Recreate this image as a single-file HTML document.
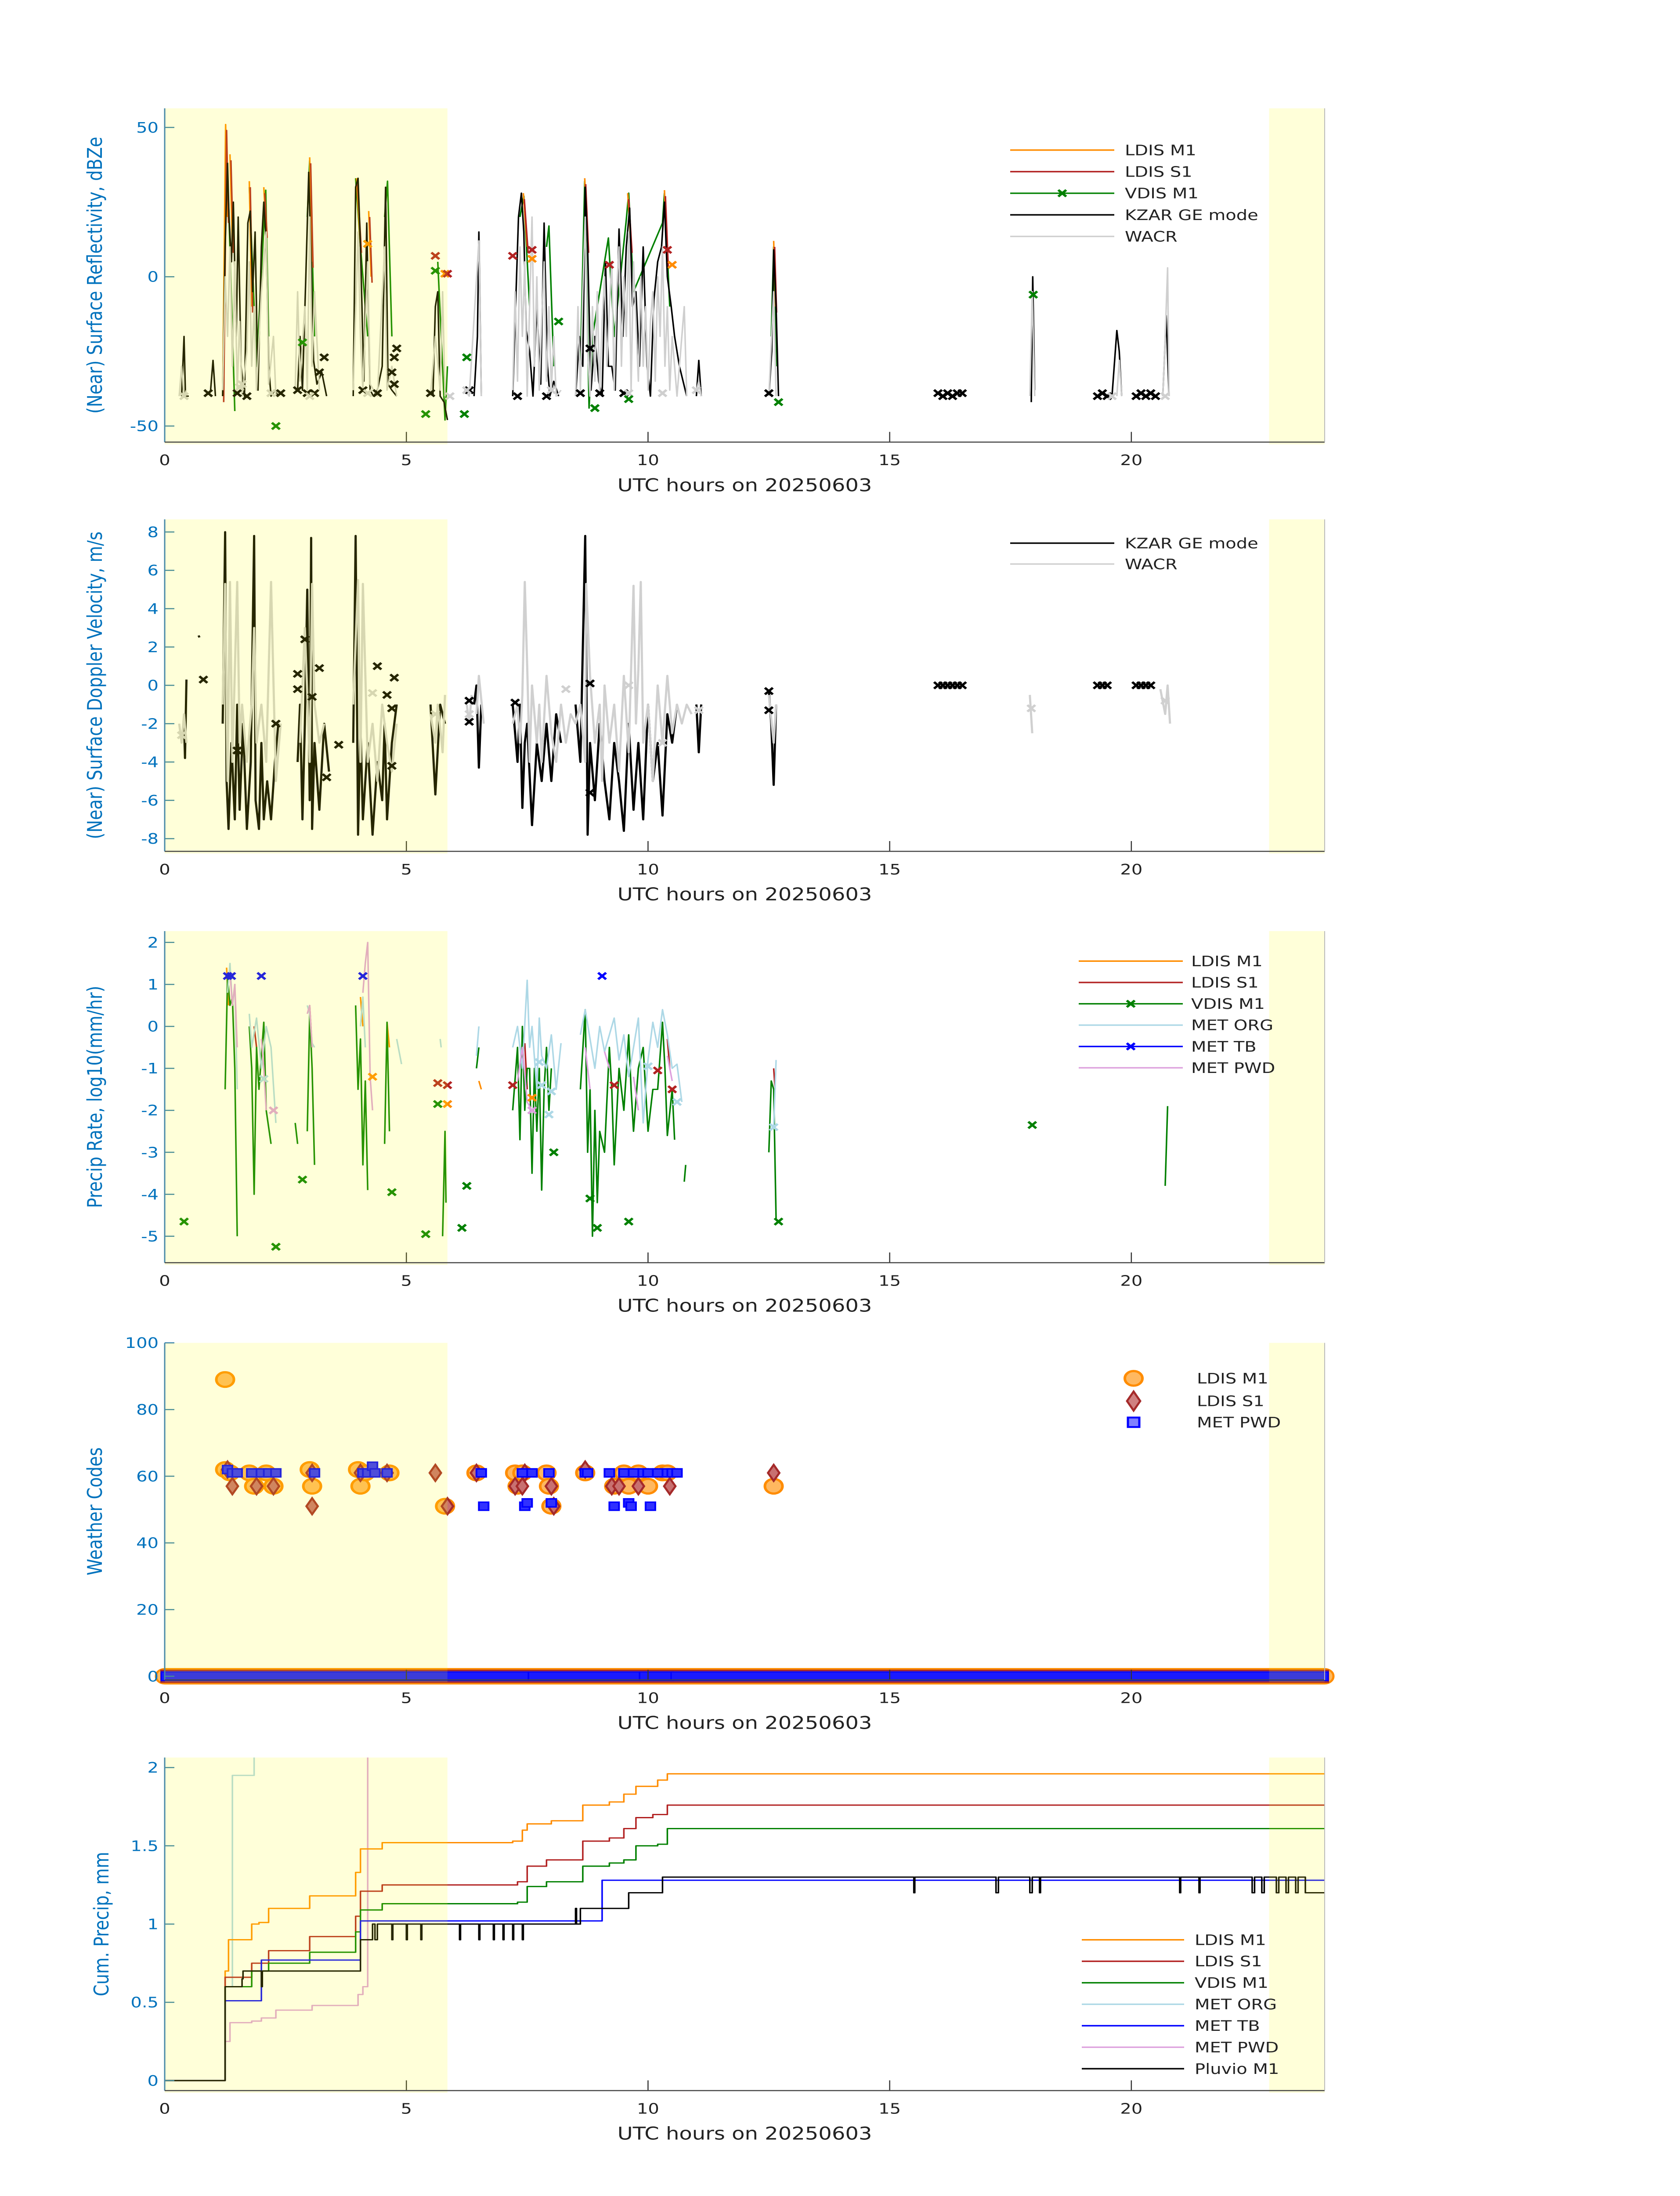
<!DOCTYPE html>
<html><head><meta charset="utf-8"><title>Surface precipitation quicklooks 20250603</title>
<style>
html,body{margin:0;padding:0;background:#fff;width:100%;height:100%;overflow:hidden;}
svg{display:block;position:absolute;left:0;top:0;width:100vw;height:100vh;font-family:"DejaVu Sans","Liberation Sans",sans-serif;}
</style></head>
<body>
<svg id="fig" width="100%" height="100%" viewBox="0 0 3825 6000" preserveAspectRatio="none" xmlns="http://www.w3.org/2000/svg"></svg>
<script>
// ---------- shared axis data ----------
const xTicks = [0,5,10,15,20];
const shadeRanges = [[0,5.85],[22.85,24]];
// ---------- panel 1: reflectivity ----------
const reflTicks = [50,0,-50];
const kzarRefl = [[0.35,-40],[0.4,-20],[0.43,-40],[0.5,-40],null,[0.95,-38],[1.0,-28],[1.05,-40],null,
 [1.2,-40],[1.25,10],[1.3,38],[1.33,20],[1.38,5],[1.42,25],[1.48,-20],[1.52,20],[1.58,-30],[1.65,-40],[1.72,18],[1.77,22],[1.82,-5],[1.87,15],[1.93,-38],[2.0,10],[2.05,25],[2.1,12],[2.15,-30],[2.2,-40],[2.28,-38],[2.35,-40],null,
 [2.75,-38],[2.8,-20],[2.85,-38],[2.92,0],[2.98,35],[3.03,5],[3.08,-28],[3.15,-36],[3.25,-32],[3.35,-40],null,
 [3.9,-40],[3.95,30],[4.0,33],[4.05,10],[4.12,-35],[4.18,18],[4.25,-38],[4.32,-40],[4.4,-38],[4.5,-30],[4.57,30],[4.62,-36],[4.7,-38],[4.8,-40],null,
 [5.55,-40],[5.6,-10],[5.65,-5],[5.7,-40],[5.78,-42],[5.85,-48],null,[6.4,-40],[6.47,-20],[6.5,15],[6.55,-40],null,
 [7.2,-40],[7.25,-15],[7.32,20],[7.38,28],[7.43,15],[7.48,-18],[7.55,-25],[7.62,-40],[7.7,-10],[7.78,-36],[7.85,18],[7.92,-30],[7.97,-40],[8.05,-35],[8.15,-40],null,
 [8.5,-40],[8.58,-20],[8.65,-30],[8.7,30],[8.75,10],[8.82,-38],[8.9,-20],[8.98,-35],[9.05,-40],[9.12,5],[9.18,-30],[9.25,-30],[9.32,-38],[9.4,16],[9.48,-20],[9.55,10],[9.62,23],[9.68,-10],[9.75,-5],[9.82,-30],[9.9,10],[9.98,-30],[10.05,-40],[10.12,-8],[10.2,5],[10.28,10],[10.34,25],[10.4,0],[10.48,-10],[10.55,-20],[10.65,-30],[10.8,-40],null,
 [11.0,-40],[11.05,-28],[11.1,-40],null,[12.5,-40],[12.56,-25],[12.6,9],[12.65,-10],[12.7,-40],null,[17.93,-42],[17.96,0],[18.0,-38],null,[19.6,-40],[19.7,-18],[19.75,-25],[19.8,-40],null,[20.65,-40],[20.72,-13],[20.78,-40]];
const wacrRefl = [[0.3,-40],[0.35,-30],[0.4,-40],[0.45,-38],null,[1.2,-38],[1.25,0],[1.3,-20],[1.35,10],[1.4,-30],[1.45,5],[1.5,-38],[1.55,-15],[1.6,-40],[1.7,-25],[1.75,5],[1.8,-30],[1.85,-10],[1.9,-38],[2.0,-5],[2.1,15],[2.15,-36],[2.25,-20],[2.3,-40],null,
 [2.7,-38],[2.75,-5],[2.8,-35],[2.9,-10],[2.95,-38],[3.0,20],[3.05,-30],[3.1,-5],[3.2,-38],null,[3.9,-38],[4.0,15],[4.05,-20],[4.1,-38],[4.2,5],[4.25,-36],[4.4,-40],[4.55,10],[4.6,-38],[4.7,-30],[4.8,-40],null,
 [5.5,-40],[5.6,-20],[5.7,-38],[5.75,-5],[5.8,-40],null,[6.2,-38],[6.3,-40],[6.5,12],[6.55,-40],null,
 [7.2,-38],[7.25,-5],[7.3,-35],[7.35,10],[7.4,-20],[7.45,5],[7.5,-40],[7.55,-10],[7.6,20],[7.65,-30],[7.7,0],[7.75,-38],[7.8,-15],[7.85,5],[7.9,-35],[7.95,-10],[8.0,-38],[8.05,-20],[8.1,-40],[8.2,-38],null,
 [8.5,-40],[8.55,-10],[8.6,-38],[8.65,-5],[8.7,20],[8.75,-25],[8.8,-40],[8.85,-10],[8.9,-35],[8.95,-5],[9.0,-40],[9.05,-15],[9.1,0],[9.15,-30],[9.2,-10],[9.25,5],[9.3,-38],[9.35,-5],[9.4,10],[9.45,-30],[9.5,0],[9.55,-20],[9.6,15],[9.65,-38],[9.7,5],[9.75,-15],[9.8,-35],[9.85,0],[9.9,-30],[9.95,-10],[10.0,-38],[10.05,-15],[10.1,-5],[10.15,-35],[10.2,0],[10.25,-20],[10.3,10],[10.35,-30],[10.4,-10],[10.45,-38],[10.5,-20],[10.6,-40],[10.75,-10],[10.8,-40],null,
 [11.0,-38],[11.05,-35],[11.1,-40],null,[12.5,-40],[12.6,-5],[12.65,-40],null,[17.9,-40],[17.95,-5],[18.0,-40],null,[19.7,-40],[19.75,-28],[19.8,-40],null,[20.65,-40],[20.7,-20],[20.75,3],[20.78,-40]];
const vdisRefl = [[1.2,-40],[1.27,49],[1.33,20],[1.45,-45],null,[1.75,30],[1.9,-30],[2.09,29],[2.15,-20],null,[2.95,20],[3.0,39],[3.1,-20],null,[3.95,33],[4.05,10],[4.2,-20],null,[4.55,20],[4.61,32],[4.7,-20],null,[5.65,5],[5.8,-48],[5.85,-30],null,
 [7.35,20],[7.43,27],[7.55,-10],null,[7.9,10],[7.95,17],[8.05,-30],null,[8.6,-30],[8.69,32],[8.78,-44],[8.85,-20],[9.18,13],[9.3,-20],[9.55,19],[9.6,28],[9.7,-5],[10.3,18],[10.34,28],[10.45,-10],null,[12.55,-20],[12.6,10],[12.65,-30]];
const ldisRefl = [[1.2,-40],[1.26,51],[1.3,20],null,[1.35,41],[1.4,10],null,[1.75,32],[1.8,-10],null,[2.05,30],[2.1,15],null,[3.0,40],[3.05,5],null,[3.97,33],[4.05,10],null,[4.22,22],[4.27,0],null,[7.42,28],[7.5,10],null,[8.69,33],[8.75,10],null,[9.58,28],[9.65,10],null,[10.34,29],[10.4,5],null,[12.6,12],[12.64,-10]];
const kzarReflX = [[0.9,-39],[1.5,-39],[1.7,-40],[2.4,-39],[2.75,-38],[2.95,-39],[3.1,-39],[3.2,-32],[3.3,-27],[4.1,-38],[4.4,-39],[4.75,-36],[4.7,-32],[4.8,-24],[4.75,-27],[5.5,-39],[6.3,-38],[7.3,-40],[7.9,-40],[8.6,-39],[8.8,-24],[9.0,-39],[9.5,-39],[12.5,-39],[16.0,-39],[16.1,-40],[16.2,-39],[16.3,-40],[16.4,-39],[16.5,-39],[19.3,-40],[19.4,-39],[19.5,-40],[20.1,-40],[20.2,-39],[20.3,-40],[20.4,-39],[20.5,-40]];
const wacrReflX = [[0.4,-40],[1.55,-37],[1.6,-36],[2.2,-39],[3.0,-40],[4.2,-39],[5.9,-40],[6.25,-38],[8.0,-38],[9.6,-39],[10.3,-39],[11.0,-38],[19.6,-40],[20.7,-40]];
const vdisReflX = [[2.3,-50],[5.4,-46],[6.2,-46],[6.25,-27],[8.9,-44],[9.6,-41],[12.7,-42],[17.97,-6],[5.6,2],[2.85,-22],[8.15,-15]];
const ldisM1ReflX = [[4.2,11],[5.8,1],[7.6,6],[10.5,4]];
const ldisS1ReflX = [[5.6,7],[5.85,1],[7.2,7],[9.2,4],[10.4,9],[7.6,9]];
// ---------- panel 2: velocity ----------
const velTicks = [8,6,4,2,0,-2,-4,-6,-8];
const kzarVel = [[0.4,-2],[0.42,-3.8],[0.45,0.3],null,[0.7,2.6],[0.72,2.5],null,[1.2,-2],[1.25,8],[1.28,-5],[1.32,-7.5],[1.38,-3],[1.45,-7],[1.5,-1],[1.55,-6.5],[1.62,-2],[1.7,-7.5],[1.78,-4],[1.85,7.8],[1.88,-6],[1.95,-7.5],[2.0,-3],[2.05,-7],[2.12,-5],[2.2,-7],[2.28,-4],[2.35,-2],null,
 [2.75,-4],[2.8,-1],[2.85,-7],[2.9,-2],[2.95,5],[3.0,-6],[3.03,7.7],[3.05,-7.5],[3.1,-3],[3.2,-6.5],[3.3,-2],[3.4,-4.5],null,
 [3.9,-3],[3.95,7.8],[4.0,-7.8],[4.05,-2],[4.1,-7],[4.2,-3],[4.3,-7.8],[4.4,-4],[4.5,-6],[4.55,-2],[4.6,-7],[4.7,-3],[4.8,-1],null,[5.5,-1],[5.6,-5.7],[5.7,-1],[5.8,-2],null,
 [6.4,-1],[6.45,0],[6.5,-4.3],[6.55,-1],null,[7.2,-1],[7.3,-4],[7.35,-1],[7.4,-6.4],[7.45,-3],[7.5,-2],[7.6,-7.3],[7.7,-3],[7.8,-5],[7.9,-2],[8.0,-5],[8.1,-1.5],[8.2,-3],null,
 [8.5,-1],[8.6,-4],[8.7,7.8],[8.75,-7.8],[8.8,-3],[8.9,-6],[9.0,-2],[9.1,-5],[9.2,-7],[9.3,-3],[9.4,-5],[9.5,-7.6],[9.6,-2],[9.7,-6.5],[9.8,-3],[9.9,-7],[10.0,-1],[10.1,-5],[10.2,-3],[10.3,-6.8],[10.4,-1.5],[10.5,-3],[10.6,-1],null,
 [11.0,-1],[11.05,-3.5],[11.1,-1],null,[12.5,-0.3],[12.55,-2],[12.6,-5.2],[12.65,-1]];
const wacrVel = [[0.3,-2],[0.35,-3],[0.4,-1.5],[0.45,-3],null,[1.2,-1],[1.25,5.3],[1.3,-5],[1.35,5.4],[1.4,-4],[1.5,5.4],[1.55,-3],[1.6,-1],[1.7,-4],[1.8,-1],[1.85,3],[1.9,-3],[2.0,-1],[2.1,-4],[2.2,5.4],[2.3,-5],[2.4,-2],null,
 [2.8,-3],[2.9,3],[3.0,-4],[3.05,5.3],[3.1,-1],[3.2,-3],[3.3,-2],null,[3.9,-1],[4.0,5.5],[4.05,-4],[4.1,5.3],[4.2,-4],[4.3,-2],[4.4,-5],[4.5,-1],[4.6,-3],[4.7,-4.5],[4.8,-2],null,
 [5.5,-1.5],[5.6,-3],[5.65,-1],[5.75,-3.5],[5.8,-0.5],null,[6.25,-1],[6.3,-2],[6.35,-0.5],null,[6.45,-1.5],[6.5,0.5],[6.6,-2],null,
 [7.2,-2],[7.3,-1],[7.35,-3],[7.4,-0.5],[7.45,5.4],[7.5,1],[7.55,-4],[7.6,0],[7.7,-3],[7.75,-1],[7.8,-4],[7.9,0.5],[8.0,-2.5],[8.1,-4],[8.2,-1],[8.3,-3],[8.4,-1.5],[8.5,-2],[8.6,-1],[8.7,-4],[8.72,5.3],[8.8,0.5],[8.9,-3],[9.0,-1],[9.05,-5],[9.1,0],[9.2,-3],[9.3,-1],[9.4,-4.5],[9.5,0.5],[9.6,-3.5],[9.7,5.2],[9.75,-2],[9.8,0.8],[9.85,5.4],[9.9,-3],[10.0,-1],[10.1,-5],[10.2,0],[10.3,-3],[10.4,0.5],[10.5,-2.5],[10.6,-1],[10.7,-2],[10.8,-1],[10.9,-1.5],null,
 [12.5,-0.5],[12.6,-3],[12.65,-1],null,[17.9,-0.5],[17.95,-2.5],null,[20.6,-0.2],[20.7,-1.5],[20.75,0],[20.8,-2]];
const kzarVelX = [[0.8,0.3],[2.9,2.4],[3.2,0.9],[2.75,0.6],[2.75,-0.2],[4.4,1.0],[4.75,0.4],[4.6,-0.5],[4.7,-1.2],[4.7,-4.2],[3.05,-0.6],[3.35,-4.8],[3.6,-3.1],[1.5,-3.4],[2.3,-2],[6.3,-0.8],[6.3,-1.9],[7.25,-0.9],[8.8,0.1],[8.8,-5.6],[12.5,-0.3],[12.5,-1.3],[16.0,0],[16.1,0],[16.2,0],[16.3,0],[16.4,0],[16.5,0],[19.3,0],[19.4,0],[19.5,0],[20.1,0],[20.2,0],[20.3,0],[20.4,0]];
const wacrVelX = [[0.35,-2.6],[4.3,-0.4],[5.6,-1.5],[6.3,-1.5],[8.3,-0.2],[9.6,0],[10.3,-3],[11.05,-1.3],[17.93,-1.2],[20.7,-0.8]];
// ---------- panel 3: precip rate ----------
const rateTicks = [2,1,0,-1,-2,-3,-4,-5];
const vdisRate = [[1.25,-1.5],[1.3,1.2],[1.35,0.5],[1.4,0.7],[1.45,-1],[1.5,-5],null,[1.75,0],[1.8,-1],[1.85,-4],[1.9,-0.5],[1.95,-1.5],[2.05,0.1],[2.1,-2],[2.2,-2.8],null,[2.7,-2.3],[2.75,-2.8],null,[2.95,-2.5],[3.0,0.3],[3.05,-1],[3.1,-3.3],null,
 [3.95,0.5],[4.0,-1.5],[4.05,-0.3],[4.1,-3.3],[4.15,-1.3],[4.2,-3.9],null,[4.55,-2.8],[4.6,0.1],[4.65,-2.5],null,[5.75,-5],[5.8,-2.5],[5.82,-4.2],null,[6.45,-1],[6.5,-0.5],null,
 [7.2,-2],[7.3,-0.5],[7.35,-2.7],[7.4,0],[7.45,-2],[7.5,-1],[7.55,-1],[7.6,-3.5],[7.65,-1],[7.7,-2.5],[7.75,-1],[7.8,-3.9],[7.85,-1.5],[7.9,-0.5],[7.95,-2],[8.0,-1],null,
 [8.6,-1.5],[8.7,0.4],[8.75,-3],[8.8,-1.5],[8.85,-5],[8.9,-2],[8.95,-4.2],[9.0,-2.5],[9.1,-3],[9.2,-0.5],[9.25,-1.5],[9.3,-3.3],[9.4,-1],[9.5,-2],[9.6,-0.2],[9.65,-1.5],[9.7,-2.5],[9.8,-1],[9.9,-0.5],[10.0,-2.5],[10.1,-1.5],[10.2,-1.5],[10.3,0.1],[10.35,-1],[10.4,-2.6],[10.5,-1.5],[10.55,-2.7],null,
 [10.75,-3.7],[10.78,-3.3],null,[12.5,-3],[12.55,-1.3],[12.6,-1.5],[12.65,-4.6],null,[20.7,-3.8],[20.75,-1.9]];
const orgRate = [[1.3,0.8],[1.35,1.5],[1.4,0.5],[1.45,1.0],[1.5,-1.5],null,[1.75,0.3],[1.8,-0.5],[1.9,0.2],[2.0,-1],[2.1,0],[2.2,-0.5],[2.3,-2.3],null,[2.95,0.5],[3.0,0.3],[3.05,-0.4],[3.1,-0.5],null,
 [4.05,0],[4.1,0.7],[4.15,-0.5],null,[4.8,-0.3],[4.9,-0.9],null,[5.7,-0.3],[5.72,-0.5],null,[6.45,-0.7],[6.5,0],null,
 [7.2,-0.5],[7.3,0],[7.4,-1],[7.5,1.1],[7.55,-0.5],[7.6,0],[7.7,-1.5],[7.75,0.2],[7.8,-0.7],[7.9,-1],[8.0,-0.2],[8.1,-1.5],[8.2,-0.4],null,
 [8.6,-0.2],[8.7,0.4],[8.8,-0.3],[8.9,-1],[9.0,0],[9.1,-0.6],[9.2,-0.2],[9.3,0.2],[9.4,-0.8],[9.5,-0.2],[9.6,-1.2],[9.7,-0.5],[9.8,0.2],[9.9,-2.3],[10.0,-0.8],[10.1,0.1],[10.2,-0.5],[10.3,0.4],[10.4,-0.2],[10.5,-1],[10.6,-0.9],[10.7,-1.8],null,[12.6,-2.4],[12.65,-0.8]];
const pwdRate = [[1.35,1.3],[1.4,0.5],[1.45,1.0],[1.5,-0.5],null,[2.0,-0.3],[2.05,-1],[2.1,-2],null,[2.95,0.3],[3.0,0.5],[3.05,-0.5],null,[4.1,0.8],[4.15,1.5],[4.2,2.0],[4.25,-1.2],[4.3,-2],null,
 [7.3,-1.3],[7.4,-0.5],[7.5,-1.8],[7.6,-2],null,[8.7,-0.5],[8.8,-1.5],null,[9.1,-0.6],[9.2,-1],null,[9.7,-1.2],[9.8,-2],null,[10.4,-0.7],[10.5,-1.3]];
const ldisM1Rate = [[1.28,1.4],[1.32,0.5],null,[4.05,0.7],[4.1,0],null,[4.6,0.1],[4.65,-0.5],null,[6.5,-1.3],[6.55,-1.5]];
const ldisS1Rate = [[1.85,0],[1.9,-0.5],null,[3.0,0.5],[3.05,-0.5],null,[7.45,-0.4],[7.5,-1.5],null,[10.4,-0.3],[10.45,-1],null,[12.6,-1],[12.63,-1.5]];
const metTbRateX = [[1.3,1.2],[1.38,1.2],[2.0,1.2],[4.1,1.2],[9.05,1.2]];
const vdisRateX = [[0.4,-4.65],[2.3,-5.25],[2.85,-3.65],[4.7,-3.95],[5.4,-4.95],[5.65,-1.85],[6.25,-3.8],[6.15,-4.8],[8.05,-3],[8.8,-4.1],[8.95,-4.8],[9.6,-4.65],[12.7,-4.65],[17.95,-2.35]];
const ldisS1RateX = [[5.65,-1.35],[5.85,-1.4],[7.2,-1.4],[9.3,-1.4],[10.2,-1.05],[10.5,-1.5]];
const ldisM1RateX = [[5.85,-1.85],[7.6,-1.7],[4.3,-1.2]];
const pwdRateX = [[2.25,-2],[7.6,-2]];
const orgRateX = [[2.05,-1.25],[7.75,-0.85],[7.8,-1.4],[7.95,-2.1],[8.0,-1.55],[10.0,-0.95],[10.6,-1.8],[12.6,-2.4]];
// ---------- panel 4: weather codes ----------
const codeTicks = [100,80,60,40,20,0];
const ldisM1Codes = [[1.25,89],[1.25,62],[1.35,61],[1.75,61],[1.85,57],[2.1,61],[2.25,57],[3.0,62],[3.05,57],[4.0,62],[4.05,57],[4.15,61],[4.65,61],[5.8,51],[6.45,61],[7.25,61],[7.3,57],[7.4,61],[7.9,61],[7.95,57],[8.0,51],[8.7,61],[9.3,57],[9.5,61],[9.6,57],[9.8,61],[10.0,57],[10.3,61],[10.4,61],[12.6,57]];
const ldisS1Codes = [[1.3,62],[1.4,57],[1.9,57],[2.25,57],[3.05,61],[3.05,51],[4.05,61],[4.6,61],[5.6,61],[5.85,51],[6.45,61],[7.25,57],[7.4,57],[7.45,61],[8.0,57],[8.05,51],[8.7,62],[9.25,57],[9.4,57],[9.8,57],[10.45,57],[12.6,61]];
const pwdCodes = [[1.3,62],[1.4,61],[1.5,61],[1.8,61],[2.0,61],[2.15,61],[2.3,61],[3.1,61],[4.1,61],[4.2,61],[4.3,63],[4.35,61],[4.6,61],[6.55,61],[6.6,51],[7.4,61],[7.45,51],[7.5,52],[7.6,61],[7.95,61],[8.0,52],[8.7,61],[8.75,61],[9.2,61],[9.3,51],[9.5,61],[9.6,52],[9.65,51],[9.7,61],[9.9,61],[10.0,61],[10.05,51],[10.2,61],[10.4,61],[10.5,61],[10.6,61]];
const zeroLdisRanges = [[0,24]];
const zeroPwdRanges = [[0,7.45],[7.6,9.75],[9.9,10.45],[10.55,24]];
// ---------- panel 5: cumulative ----------
const cumTicks = [2,1.5,1,0.5,0];
const cumLdisM1 = [[0,0],[1.25,0.7],[1.32,0.9],[1.8,1.0],[1.95,1.01],[2.15,1.1],[3.0,1.18],[3.95,1.33],[4.05,1.48],[4.5,1.52],[7.2,1.53],[7.4,1.6],[7.5,1.64],[8.0,1.66],[8.65,1.76],[9.2,1.78],[9.5,1.83],[9.75,1.88],[10.2,1.92],[10.4,1.96],[24,1.96]];
const cumLdisS1 = [[0,0],[1.25,0.66],[1.8,0.75],[2.15,0.83],[3.0,0.92],[3.95,1.05],[4.05,1.21],[4.5,1.25],[7.3,1.27],[7.5,1.37],[7.9,1.41],[8.65,1.53],[9.2,1.55],[9.5,1.61],[9.75,1.68],[10.1,1.7],[10.4,1.76],[24,1.76]];
const cumVdis = [[0,0],[1.25,0.6],[1.8,0.7],[2.15,0.75],[3.0,0.82],[3.95,0.95],[4.05,1.09],[4.5,1.13],[7.3,1.14],[7.5,1.24],[7.9,1.27],[8.65,1.37],[9.2,1.39],[9.5,1.41],[9.75,1.5],[10.2,1.51],[10.4,1.61],[24,1.61]];
const cumMetTb = [[0,0],[1.25,0.51],[2.0,0.77],[4.05,1.02],[9.05,1.28],[24,1.28]];
const cumPwd = [[0,0],[1.25,0.25],[1.35,0.37],[1.8,0.38],[2.0,0.4],[2.3,0.45],[3.05,0.48],[4.0,0.55],[4.1,0.6],[4.2,2.1]];
const cumOrg = [[0,0],[1.25,0.6],[1.4,1.95],[1.85,2.1]];
const cumPluvio = [[0,0],[1.25,0.6],[1.6,0.65],[1.62,0.7],[2.0,0.6],[2.02,0.7],[4.05,0.9],[4.3,1.0],[4.35,0.9],[4.4,1.0],[4.7,0.9],[4.72,1.0],[5.0,0.9],[5.02,1.0],[5.3,0.9],[5.32,1.0],[6.1,0.9],[6.12,1.0],[6.5,0.9],[6.52,1.0],[6.8,0.9],[6.82,1.0],[7.0,0.9],[7.02,1.0],[7.2,0.9],[7.22,1.0],[7.4,0.9],[7.42,1.0],[8.5,1.1],[8.52,1.0],[8.6,1.1],[9.6,1.2],[10.3,1.3],[15.5,1.2],[15.52,1.3],[17.2,1.2],[17.25,1.3],[17.9,1.2],[17.95,1.3],[18.1,1.2],[18.12,1.3],[21.0,1.2],[21.02,1.3],[21.4,1.2],[21.42,1.3],[22.5,1.2],[22.55,1.3],[22.7,1.2],[22.75,1.3],[23.0,1.2],[23.05,1.3],[23.2,1.2],[23.25,1.3],[23.4,1.2],[23.45,1.3],[23.6,1.2],[24,1.2]];

// ---------- drawing ----------
const NS = 'http://www.w3.org/2000/svg';
const fig = document.getElementById('fig');
const X0 = 375, X1 = 3016;
function xs(t){ return X0 + (X1 - X0) * t / 24; }
function mk(tag, attrs, parent){ const e = document.createElementNS(NS, tag); for (const k in attrs) e.setAttribute(k, attrs[k]); (parent || fig).appendChild(e); return e; }

const panels = [
 {name:'reflectivity', top:296, bot:1208, ymin:-55.4, ymax:56.4, ticks:reflTicks, label:'(Near) Surface Reflectivity, dBZe'},
 {name:'doppler-velocity', top:1419, bot:2326, ymin:-8.66, ymax:8.66, ticks:velTicks, label:'(Near) Surface Doppler Velocity, m/s'},
 {name:'precip-rate', top:2544, bot:3450, ymin:-5.63, ymax:2.27, ticks:rateTicks, label:'Precip Rate, log10(mm/hr)'},
 {name:'weather-codes', top:3669, bot:4590, ymin:-1.1, ymax:100, ticks:codeTicks, label:'Weather Codes'},
 {name:'cum-precip', top:4802, bot:5712, ymin:-0.064, ymax:2.064, ticks:cumTicks, label:'Cum. Precip, mm'}
];
function ysF(p){ return v => p.bot - (p.bot - p.top) * (v - p.ymin) / (p.ymax - p.ymin); }

function drawLine(g, p, pts, color, w, step){
  const ys = ysF(p); let d = ''; let pen = false;
  for (const pt of pts){
    if (!pt){ pen = false; continue; }
    const x = xs(pt[0]).toFixed(1), y = ys(pt[1]).toFixed(1);
    if (!pen){ d += 'M' + x + ' ' + y; pen = true; }
    else if (step){ d += 'H' + x + 'V' + y; }
    else d += 'L' + x + ' ' + y;
  }
  return mk('path', {d:d, fill:'none', stroke:color, 'stroke-width':w, 'stroke-linejoin':'round'}, g);
}
function drawX(g, p, pts, color, s){
  const ys = ysF(p); let d = '';
  for (const pt of pts){ const x = xs(pt[0]), y = ys(pt[1]);
    d += `M${x-s} ${y-s}L${x+s} ${y+s}M${x-s} ${y+s}L${x+s} ${y-s}`; }
  return mk('path', {d:d, stroke:color, 'stroke-width':6, fill:'none'}, g);
}

panels.forEach((p, i) => {
  const g = mk('g', {});
  
  
  p.g = g;
  const ys = ysF(p);
  const dg = mk('g', {}, g);
  
  
  p.dg = dg;
  p.ticks.forEach(v => {
    const y = ys(v);
    const tl = mk('line', {x1:X0, x2:X0+22, y1:y, y2:y, stroke:'#2a7ab0', 'stroke-width':3}, g);
    
    
    const t = mk('text', {x:X0-14, y:y+14, 'text-anchor':'end', 'font-size':40, fill:'#0072BD'}, g);
    t.textContent = v;
    
    
  });
  xTicks.forEach(v => {
    const x = xs(v);
    const tl = mk('line', {x1:x, x2:x, y1:p.bot, y2:p.bot-28, stroke:'#333', 'stroke-width':2.5}, g);
    
    
    const t = mk('text', {x:x, y:p.bot+63, 'text-anchor':'middle', 'font-size':40, fill:'#222'}, g);
    t.textContent = v;
    
    
  });
  const xl = mk('text', {x:(X0+X1)/2, y:p.bot+134, 'text-anchor':'middle', 'font-size':48, fill:'#222'}, g);
  xl.textContent = 'UTC hours on 20250603';
  
  
  const cy = (p.top + p.bot) / 2;
  const yl = mk('text', {x:0, y:0, 'text-anchor':'middle', 'font-size':46, fill:'#0072BD', transform:`translate(${i===4?247:232},${cy}) rotate(-90)`}, g);
  yl.textContent = p.label;
  
  
});

// panel 1 series
(function(){ const p = panels[0], g = p.dg;
  drawLine(g, p, vdisRefl, '#008000', 3.5);
  drawLine(g, p, ldisRefl, '#ff8c00', 3.5);
  drawLine(g, p, ldisRefl.map(q => q && [q[0]+0.02, q[1]-2]), '#b22222', 3.5);
  drawLine(g, p, kzarRefl, '#000', 3.5);
  drawLine(g, p, wacrRefl, '#cfcfcf', 3.5);
  drawX(g, p, kzarReflX, '#000', 9);
  drawX(g, p, wacrReflX, '#cfcfcf', 9);
  drawX(g, p, vdisReflX, '#008000', 9);
  drawX(g, p, ldisM1ReflX, '#ff8c00', 9);
  drawX(g, p, ldisS1ReflX, '#b22222', 9);
})();
// panel 2
(function(){ const p = panels[1], g = p.dg;
  drawLine(g, p, kzarVel, '#000', 5);
  drawLine(g, p, wacrVel, '#d0d0d0', 5);
  drawX(g, p, kzarVelX, '#000', 9);
  drawX(g, p, wacrVelX, '#d0d0d0', 9);
})();
// panel 3
(function(){ const p = panels[2], g = p.dg;
  drawLine(g, p, ldisM1Rate, '#ff8c00', 3.5);
  drawLine(g, p, ldisS1Rate, '#b22222', 3.5);
  drawLine(g, p, vdisRate, '#008000', 3.5);
  drawLine(g, p, orgRate, '#add8e6', 3.5);
  drawLine(g, p, pwdRate, '#dda0dd', 3.5);
  drawX(g, p, vdisRateX, '#008000', 9);
  drawX(g, p, ldisS1RateX, '#b22222', 9);
  drawX(g, p, ldisM1RateX, '#ff8c00', 9);
  drawX(g, p, pwdRateX, '#dda0dd', 9);
  drawX(g, p, orgRateX, '#add8e6', 9);
  drawX(g, p, metTbRateX, '#0000ff', 9);
})();
// panel 4
(function(){ const p = panels[3], g = p.dg, ys = ysF(p);
  const y0 = ys(0);
  zeroLdisRanges.forEach(r => {
    const e = mk('rect', {x:xs(r[0])-20, y:y0-20, width:xs(r[1])-xs(r[0])+40, height:40, rx:20, fill:'#ffb860', stroke:'#ff8c00', 'stroke-width':5}, g);
    
    
    const d = mk('rect', {x:xs(r[0])-8, y:y0-16, width:xs(r[1])-xs(r[0])+16, height:32, fill:'#c06060', stroke:'#a52a2a', 'stroke-width':4}, g);
    
    
  });
  zeroPwdRanges.forEach(r => {
    const e = mk('rect', {x:xs(r[0])-8, y:y0-12, width:xs(r[1])-xs(r[0])+16, height:24, fill:'#1a1aff', stroke:'#0000ff', 'stroke-width':3}, g);
    
    
  });
  ldisM1Codes.forEach(c => { const e = mk('circle', {cx:xs(c[0]), cy:ys(c[1]), r:20, fill:'#ffb860', stroke:'#ff8c00', 'stroke-width':6}, g);
    
     });
  ldisS1Codes.forEach(c => { const x = xs(c[0]), y = ys(c[1]);
    const e = mk('path', {d:`M${x} ${y-22}L${x+13} ${y}L${x} ${y+22}L${x-13} ${y}Z`, fill:'#c87070', stroke:'#a52a2a', 'stroke-width':5}, g);
    
     });
  pwdCodes.forEach(c => { const x = xs(c[0]), y = ys(c[1]);
    const e = mk('rect', {x:x-11, y:y-11, width:22, height:22, fill:'#3030ff', stroke:'#0000ff', 'stroke-width':4}, g);
    
     });
})();
// panel 5
(function(){ const p = panels[4], g = p.dg;
  const defs = mk('defs', {});
  const clip = mk('clipPath', {id:'c5'}, defs);
  mk('rect', {x:X0, y:p.top, width:X1-X0, height:p.bot-p.top}, clip);
  g.setAttribute('clip-path', 'url(#c5)');
  drawLine(g, p, cumOrg, '#add8e6', 3.5, true);
  drawLine(g, p, cumPwd, '#dda0dd', 3.5, true);
  drawLine(g, p, cumLdisM1, '#ff8c00', 3.5, true);
  drawLine(g, p, cumLdisS1, '#b22222', 3.5, true);
  drawLine(g, p, cumVdis, '#008000', 3.5, true);
  drawLine(g, p, cumMetTb, '#0000ff', 3.5, true);
  drawLine(g, p, cumPluvio, '#000', 3.5, true);
})();

// shading + spines
panels.forEach(p => {
  shadeRanges.forEach(r => {
    const e = mk('rect', {x:xs(r[0]), y:p.top, width:xs(r[1])-xs(r[0]), height:p.bot-p.top+6, fill:'rgba(255,255,0,0.15)'}, p.g);
    
    
  });
  const l = mk('line', {x1:X0, x2:X0, y1:p.top, y2:p.bot, stroke:'#4a8aa8', 'stroke-width':3}, p.g);
  
  
  const b = mk('line', {x1:X0, x2:X1, y1:p.bot, y2:p.bot, stroke:'#444', 'stroke-width':3}, p.g);
  
  
  const r = mk('line', {x1:X1, x2:X1, y1:p.top, y2:p.bot, stroke:'#bbb', 'stroke-width':2}, p.g);
  
  
});

// legends
function legendLine(p, x1, x2, tx, y, label, color, marker){
  const g = mk('g', {}, p.g);
  
  
  mk('line', {x1:x1, x2:x2, y1:y, y2:y, stroke:color, 'stroke-width':4}, g);
  if (marker){ const m = (x1+x2)/2, s = 9;
    mk('path', {d:`M${m-s} ${y-s}L${m+s} ${y+s}M${m-s} ${y+s}L${m+s} ${y-s}`, stroke:color, 'stroke-width':6}, g); }
  const t = mk('text', {x:tx, y:y+14, 'font-size':40, fill:'#222'}, g);
  t.textContent = label;
}
const leg1Labels = ['LDIS M1','LDIS S1','VDIS M1','KZAR GE mode','WACR'];
const leg1Colors = ['#ff8c00','#b22222','#008000','#000','#d0d0d0'];
leg1Labels.forEach((l, i) => legendLine(panels[0], 2300, 2537, 2561, 410 + i*59, l, leg1Colors[i], i === 2));
['KZAR GE mode','WACR'].forEach((l, i) => legendLine(panels[1], 2300, 2537, 2561, 1484 + i*57, l, ['#000','#d0d0d0'][i], false));
const leg3Labels = ['LDIS M1','LDIS S1','VDIS M1','MET ORG','MET TB','MET PWD'];
const leg3Colors = ['#ff8c00','#b22222','#008000','#add8e6','#0000ff','#dda0dd'];
leg3Labels.forEach((l, i) => legendLine(panels[2], 2456, 2693, 2712, 2626 + i*58.3, l, leg3Colors[i], i === 2 || i === 4));
const leg5Labels = ['LDIS M1','LDIS S1','VDIS M1','MET ORG','MET TB','MET PWD','Pluvio M1'];
const leg5Colors = ['#ff8c00','#b22222','#008000','#add8e6','#0000ff','#dda0dd','#000'];
leg5Labels.forEach((l, i) => legendLine(panels[4], 2463, 2696, 2720, 5300 + i*58.7, l, leg5Colors[i], false));
(function(){ const p = panels[3];
  const rows = [3766, 3828, 3886], labels = ['LDIS M1','LDIS S1','MET PWD'];
  rows.forEach((y, i) => {
    const g = mk('g', {}, p.g);
    
    
    const x = 2581;
    if (i === 0) mk('circle', {cx:x, cy:y, r:20, fill:'#ffb860', stroke:'#ff8c00', 'stroke-width':6}, g);
    if (i === 1) mk('path', {d:`M${x} ${y-26}L${x+15} ${y}L${x} ${y+26}L${x-15} ${y}Z`, fill:'#d08080', stroke:'#a52a2a', 'stroke-width':5}, g);
    if (i === 2) mk('rect', {x:x-13, y:y-13, width:26, height:26, fill:'#8080ff', stroke:'#0000ff', 'stroke-width':5}, g);
    const t = mk('text', {x:2725, y:y+14, 'font-size':40, fill:'#222'}, g);
    t.textContent = labels[i];
  });
})();
</script>
</body></html>
